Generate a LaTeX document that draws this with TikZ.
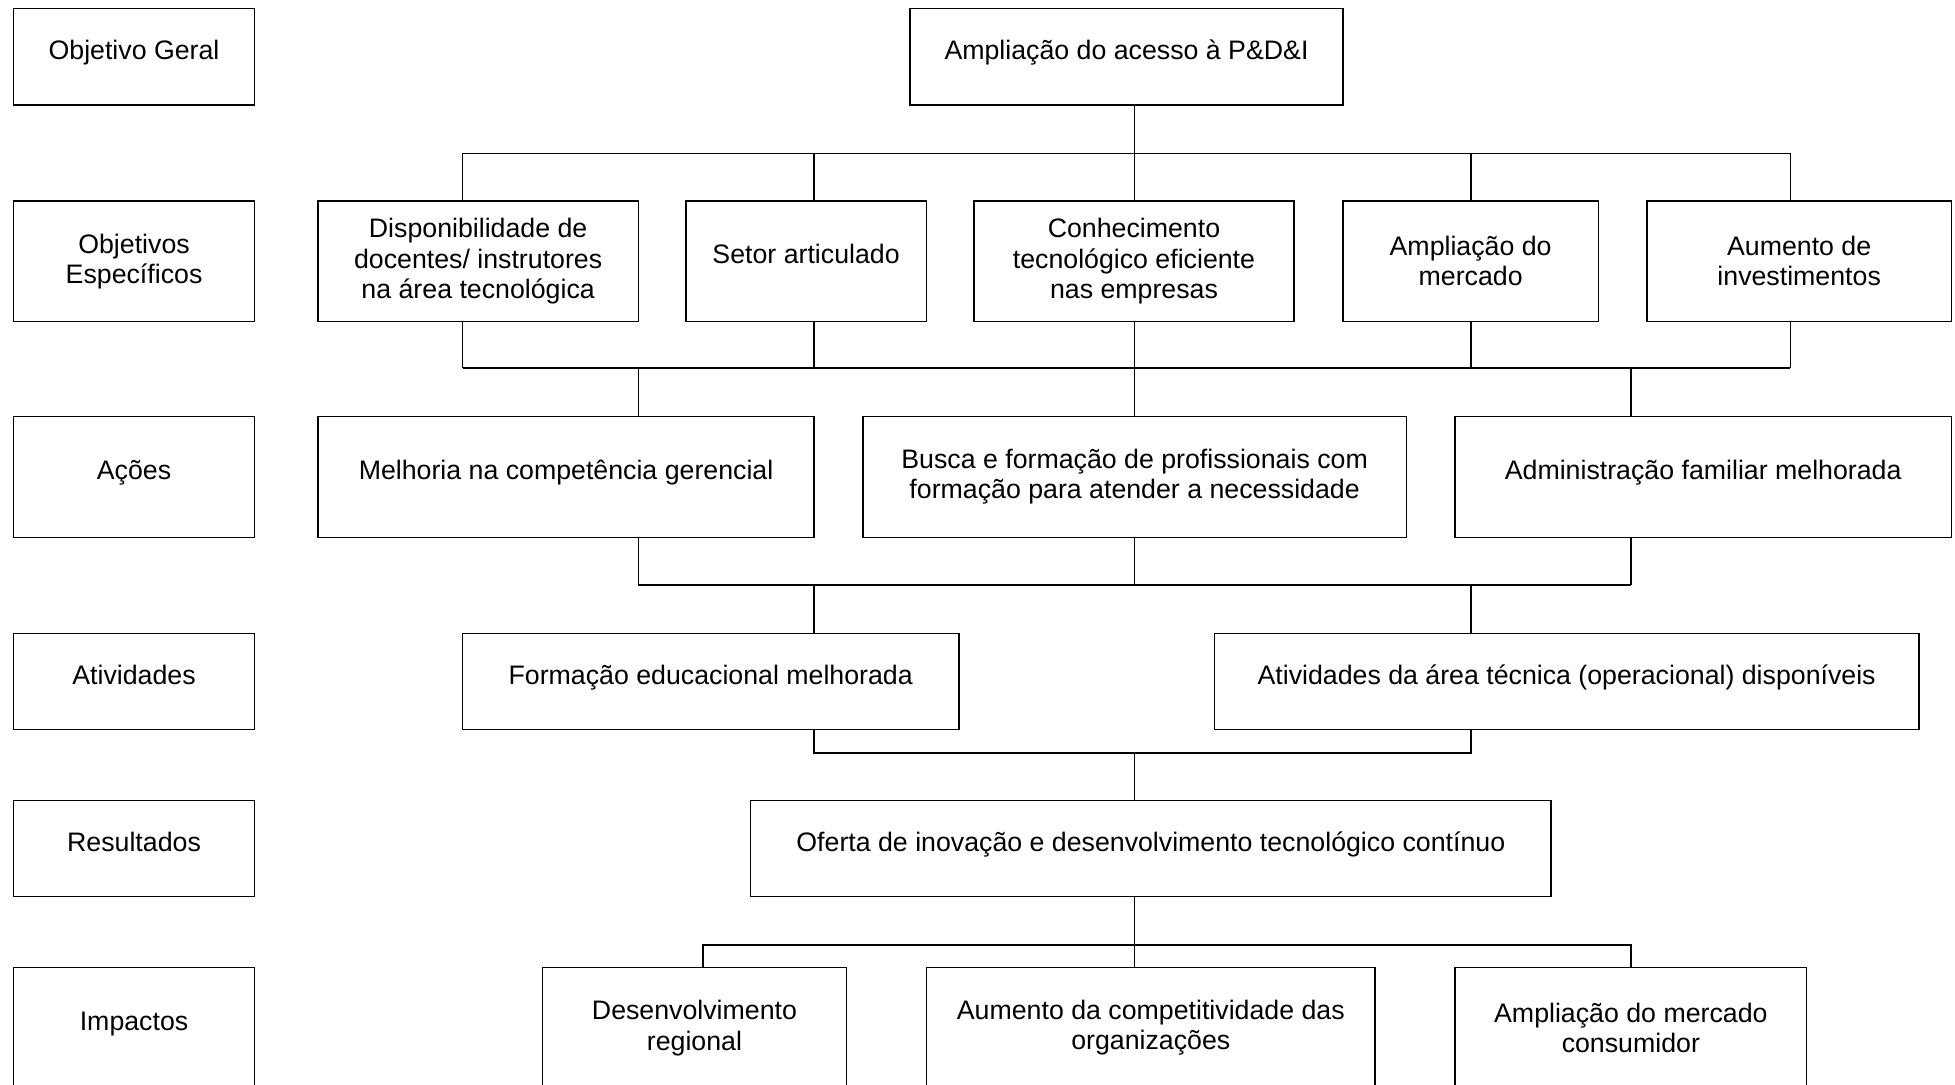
\documentclass[tikz,border=0pt]{standalone}
\usepackage{fontspec}
\setmainfont{Liberation Sans}
\usepackage{tikz}
\usetikzlibrary{calc}
\tikzset{
  box/.style={rectangle, draw=black, fill=white, align=center,
    inner sep=2pt, line width=0.7pt, font=\fontsize{12.2}{13.8}\selectfont},
  lblbox/.style={box, minimum width=3.86cm},
  oneline/.style={text height=0.75em, text depth=0.5em},
  link/.style={line width=0.7pt, color=black}
}

\begin{document}
\begin{tikzpicture}
  \useasboundingbox (0,0) rectangle (31.36,-17.4);

  % left column: levels
  \node[lblbox, oneline, minimum height=1.54cm] (lgeral) at (2.15,-0.91) {Objetivo Geral};
  \node[lblbox, minimum height=1.94cm] (lespec) at (2.15,-4.19) {Objetivos\\Específicos};
  \node[lblbox, oneline, minimum height=1.94cm] (lacoes) at (2.15,-7.65) {Ações};
  \node[lblbox, oneline, minimum height=1.54cm] (lativ) at (2.15,-10.93) {Atividades};
  \node[lblbox, oneline, minimum height=1.54cm] (lres) at (2.15,-13.61) {Resultados};
  \node[lblbox, oneline, minimum height=1.94cm] (limp) at (2.15,-16.49) {Impactos};

  % general objective
  \node[box, oneline, minimum width=6.94cm, minimum height=1.54cm] (geral) at (18.07,-0.91) {Ampliação do acesso à P\&D\&I};

  % specific objectives
  \node[box, minimum width=5.14cm, minimum height=1.94cm] (esp1) at (7.67,-4.19) {Disponibilidade de\\docentes/ instrutores\\na área tecnológica};
  \node[box, oneline, minimum width=3.86cm, minimum height=1.94cm] (esp2) at (12.93,-4.19) {Setor articulado};
  \node[box, minimum width=5.14cm, minimum height=1.94cm] (esp3) at (18.19,-4.19) {Conhecimento\\tecnológico eficiente\\nas empresas};
  \node[box, minimum width=4.10cm, minimum height=1.94cm] (esp4) at (23.59,-4.19) {Ampliação do\\mercado};
  \node[box, minimum width=4.88cm, minimum height=1.94cm] (esp5) at (28.86,-4.19) {Aumento de\\investimentos};

  % actions
  \node[box, oneline, minimum width=7.96cm, minimum height=1.94cm] (acao1) at (9.08,-7.65) {Melhoria na competência gerencial};
  \node[box, minimum width=8.72cm, minimum height=1.94cm] (acao2) at (18.20,-7.65) {Busca e formação de profissionais com\\formação para atender a necessidade};
  \node[box, oneline, minimum width=7.96cm, minimum height=1.94cm] (acao3) at (27.32,-7.65) {Administração familiar melhorada};

  % activities
  \node[box, oneline, minimum width=7.96cm, minimum height=1.54cm] (ativ1) at (11.40,-10.93) {Formação educacional melhorada};
  \node[box, oneline, minimum width=11.30cm, minimum height=1.54cm] (ativ2) at (25.13,-10.93) {Atividades da área técnica (operacional) disponíveis};

  % results
  \node[box, oneline, minimum width=12.84cm, minimum height=1.54cm] (res) at (18.46,-13.61) {Oferta de inovação e desenvolvimento tecnológico contínuo};

  % impacts
  \node[box, minimum width=4.88cm, minimum height=1.94cm] (imp1) at (11.14,-16.49) {Desenvolvimento\\regional};
  \node[box, minimum width=7.20cm, minimum height=1.94cm] (imp2) at (18.46,-16.49) {Aumento da competitividade das\\organizações};
  \node[box, minimum width=5.64cm, minimum height=1.94cm] (imp3) at (26.16,-16.49) {Ampliação do mercado\\consumidor};

  % connector columns and bus heights
  \coordinate (xA) at (7.42,0);  \coordinate (xB) at (13.06,0);
  \coordinate (xC) at (18.20,0); \coordinate (xD) at (23.60,0);
  \coordinate (xE) at (28.72,0); \coordinate (xF) at (10.24,0);
  \coordinate (xG) at (26.16,0); \coordinate (xH) at (11.28,0);
  \coordinate (bus1) at (0,-2.46);  \coordinate (bus2) at (0,-5.90);
  \coordinate (bus3) at (0,-9.38);  \coordinate (bus4) at (0,-12.08);
  \coordinate (bus5) at (0,-15.16);

  % general -> specific
  \draw[link] (geral.south -| xC) -- (bus1 -| xC);
  \draw[link] (bus1 -| xA) -- (bus1 -| xE);
  \foreach \n/\x in {esp1/xA, esp2/xB, esp3/xC, esp4/xD, esp5/xE}
    \draw[link] (\n.north -| \x) -- (bus1 -| \x);

  % specific -> actions
  \foreach \n/\x in {esp1/xA, esp2/xB, esp3/xC, esp4/xD, esp5/xE}
    \draw[link] (\n.south -| \x) -- (bus2 -| \x);
  \draw[link] (bus2 -| xA) -- (bus2 -| xE);
  \foreach \n/\x in {acao1/xF, acao2/xC, acao3/xG}
    \draw[link] (\n.north -| \x) -- (bus2 -| \x);

  % actions -> activities
  \foreach \n/\x in {acao1/xF, acao2/xC, acao3/xG}
    \draw[link] (\n.south -| \x) -- (bus3 -| \x);
  \draw[link] (bus3 -| xF) -- (bus3 -| xG);
  \draw[link] (ativ1.north -| xB) -- (bus3 -| xB);
  \draw[link] (ativ2.north -| xD) -- (bus3 -| xD);

  % activities -> results
  \draw[link] (ativ1.south -| xB) |- (bus4 -| xD) -- (ativ2.south -| xD);
  \draw[link] (res.north -| xC) -- (bus4 -| xC);

  % results -> impacts
  \draw[link] (res.south -| xC) -- (imp2.north -| xC);
  \draw[link] (imp1.north -| xH) |- (bus5 -| xG) -- (imp3.north -| xG);
\end{tikzpicture}
\end{document}
